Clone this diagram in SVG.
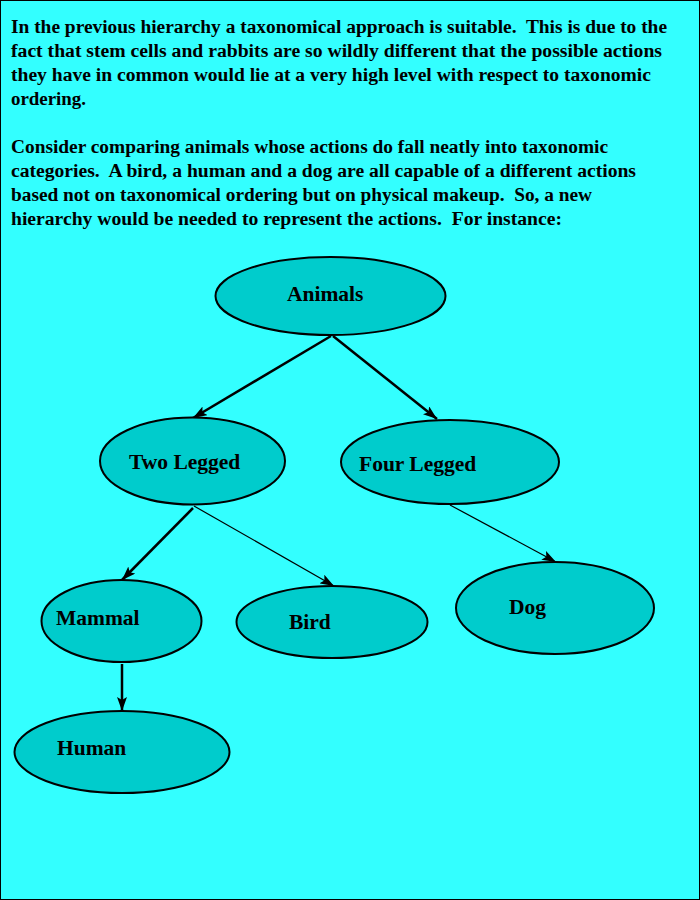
<svg xmlns="http://www.w3.org/2000/svg" width="700" height="900" viewBox="0 0 700 900">
<style>
.para{font-family:"Liberation Serif","Times New Roman",serif;font-weight:bold;font-size:18.5px;fill:#000;white-space:pre}
.node ellipse{fill:#00CCCC;stroke:#000;stroke-width:2}
.node text{font-family:"Liberation Serif","Times New Roman",serif;font-weight:bold;font-size:21.5px;fill:#000}
.edge{stroke:#000;fill:none;marker-end:url(#arr)}
.thick{stroke-width:2.5}
.thin{stroke-width:1.2}
</style>
<defs>
<marker id="arr" markerUnits="userSpaceOnUse" markerWidth="16" markerHeight="10" refX="14" refY="5" orient="auto">
<path d="M0,0 L14,5 L0,10 L3,5 Z" fill="#000"/>
</marker>
</defs>
<rect x="0.5" y="0.5" width="699" height="899" fill="#33FFFF" stroke="#000" stroke-width="1"/>
<g id="paragraph">
<text class="para" x="11" y="33" textLength="656" lengthAdjust="spacingAndGlyphs" xml:space="preserve">In the previous hierarchy a taxonomical approach is suitable.  This is due to the</text>
<text class="para" x="11" y="57" textLength="651" lengthAdjust="spacingAndGlyphs" xml:space="preserve">fact that stem cells and rabbits are so wildly different that the possible actions</text>
<text class="para" x="11" y="81" textLength="640" lengthAdjust="spacingAndGlyphs" xml:space="preserve">they have in common would lie at a very high level with respect to taxonomic</text>
<text class="para" x="11" y="105" textLength="75" lengthAdjust="spacingAndGlyphs" xml:space="preserve">ordering.</text>
<text class="para" x="11" y="153" textLength="597" lengthAdjust="spacingAndGlyphs" xml:space="preserve">Consider comparing animals whose actions do fall neatly into taxonomic</text>
<text class="para" x="11" y="177" textLength="625" lengthAdjust="spacingAndGlyphs" xml:space="preserve">categories.  A bird, a human and a dog are all capable of a different actions</text>
<text class="para" x="11" y="201" textLength="581" lengthAdjust="spacingAndGlyphs" xml:space="preserve">based not on taxonomical ordering but on physical makeup.  So, a new</text>
<text class="para" x="11" y="225" textLength="551" lengthAdjust="spacingAndGlyphs" xml:space="preserve">hierarchy would be needed to represent the actions.  For instance:</text>
</g>
<g id="connectors">
<line class="edge thick" x1="331" y1="336" x2="193" y2="418"/>
<line class="edge thick" x1="333" y1="336" x2="437" y2="419"/>
<line class="edge thick" x1="193" y1="508" x2="122" y2="580"/>
<line class="edge thin" x1="194" y1="506" x2="334" y2="586"/>
<line class="edge thin" x1="450" y1="505" x2="556" y2="562"/>
<line class="edge thick" x1="122" y1="664" x2="122" y2="711"/>
</g>
<g id="animals" class="node"><ellipse cx="330.5" cy="296" rx="115" ry="39"/><text x="287" y="301">Animals</text></g>
<g id="two-legged" class="node"><ellipse cx="192.5" cy="461" rx="92.5" ry="43.5"/><text x="129" y="469">Two Legged</text></g>
<g id="four-legged" class="node"><ellipse cx="450" cy="462" rx="109" ry="42"/><text x="359" y="471">Four Legged</text></g>
<g id="mammal" class="node"><ellipse cx="121.5" cy="621" rx="80" ry="41"/><text x="56" y="625">Mammal</text></g>
<g id="bird" class="node"><ellipse cx="332" cy="622" rx="95.5" ry="36"/><text x="289" y="629">Bird</text></g>
<g id="dog" class="node"><ellipse cx="555" cy="608" rx="99" ry="46"/><text x="509" y="614">Dog</text></g>
<g id="human" class="node"><ellipse cx="122" cy="752" rx="107.5" ry="41"/><text x="57" y="755">Human</text></g>
</svg>
